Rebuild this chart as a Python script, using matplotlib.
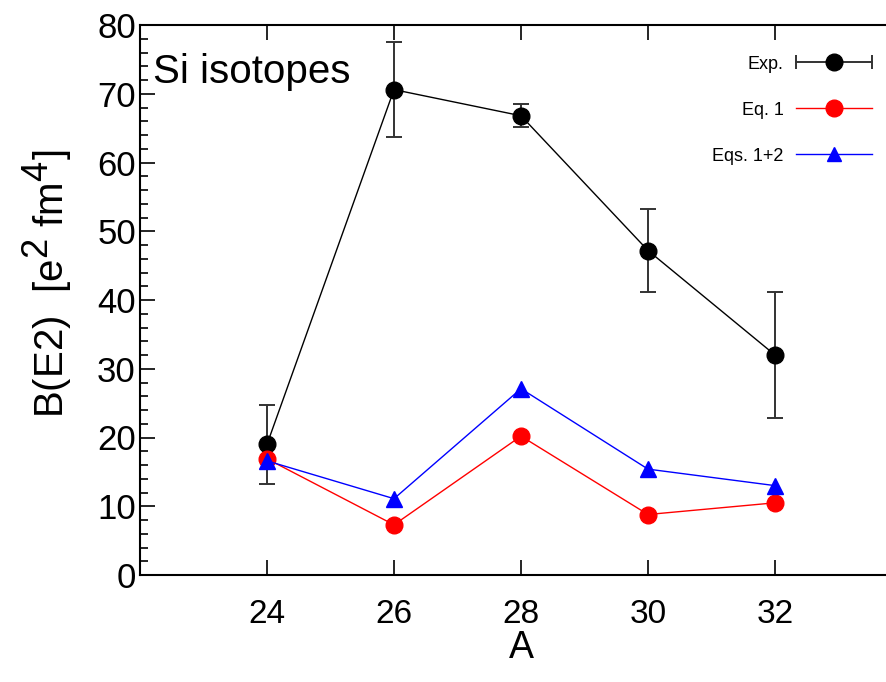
import matplotlib
matplotlib.use("Agg")
import matplotlib.pyplot as plt
import matplotlib._mathtext as mathtext_internal
from matplotlib.lines import Line2D
from matplotlib.legend_handler import HandlerLine2D, HandlerTuple
from matplotlib.ticker import MultipleLocator

plt.rcParams["font.family"] = ["Liberation Sans", "DejaVu Sans"]
plt.rcParams["mathtext.fontset"] = "custom"
plt.rcParams["mathtext.rm"] = "Liberation Sans"
plt.rcParams["mathtext.it"] = "Liberation Sans"
# larger exponents in the axis label
mathtext_internal.SHRINK_FACTOR = 0.9

# Mass number of the Si isotopes
mass_number = [24, 26, 28, 30, 32]

# Measured B(E2) values with uncertainties [e^2 fm^4]
exp_values = [19.0, 70.6, 66.8, 47.2, 32.0]
exp_errors = [5.8, 6.9, 1.7, 6.0, 9.1]

# Calculated B(E2) values
eq1_values = [16.9, 7.3, 20.2, 8.8, 10.5]
eq12_values = [16.6, 11.1, 27.1, 15.4, 13.0]

x_ticks = [24, 26, 28, 30, 32]

W, H = 886, 682
fig = plt.figure(figsize=(W / 100, H / 100), dpi=100)
# axes box runs past the right edge of the canvas
ax = fig.add_axes([140 / W, (H - 575) / H, 762 / W, 550 / H])

ax.errorbar(mass_number, exp_values, yerr=exp_errors, color="black",
            ecolor="#333333", elinewidth=1.4, capsize=6, capthick=1.4,
            marker="o", markersize=12, linewidth=1.0, zorder=3)
ax.plot(mass_number, eq1_values, color="#ff0000", marker="o",
        markersize=12, linewidth=1.0, zorder=4)
ax.plot(mass_number, eq12_values, color="#0000ff", marker="^",
        markersize=11, linewidth=1.0, zorder=5)

ax.set_xlim(22, 34)
ax.set_ylim(0, 80)
ax.set_xticks(x_ticks)
ax.yaxis.set_major_locator(MultipleLocator(10))
ax.yaxis.set_minor_locator(MultipleLocator(2))

ax.tick_params(axis="both", which="both", direction="in", top=True,
               right=True, width=1.2)
ax.tick_params(axis="both", which="major", length=11)
ax.tick_params(axis="y", which="minor", length=6)
ax.tick_params(axis="y", which="major", labelsize=25, pad=3)
ax.tick_params(axis="x", which="major", labelsize=24, pad=17)
for s in ax.spines.values():
    s.set_linewidth(1.5)

ax.set_xlabel("A", fontsize=27, labelpad=0)
ax.set_ylabel(r"B(E2)  [e$^2$ fm$^4$]", fontsize=29)
ax.yaxis.set_label_coords(-0.085, 0.53)

ax.text(0.017, 0.895, "Si isotopes", transform=ax.transAxes,
        fontsize=29, va="baseline", ha="left")

# legend keys: label on the left, sample line on the right
exp_caps = Line2D([], [], color="#333333", linewidth=1.4, marker="|",
                  markersize=10, markeredgewidth=1.4)
exp_dot = Line2D([], [], color="black", linestyle="none", marker="o",
                 markersize=12)
eq1_key = Line2D([], [], color="#ff0000", linewidth=1.0, marker="o",
                 markersize=12)
eq12_key = Line2D([], [], color="#0000ff", linewidth=1.0, marker="^",
                  markersize=10)
leg = ax.legend([(exp_caps, exp_dot), eq1_key, eq12_key],
                ["Exp.", "Eq. 1", "Eqs. 1+2"],
                handler_map={exp_caps: HandlerLine2D(numpoints=2, marker_pad=0),
                             tuple: HandlerTuple(ndivide=1, pad=0)},
                loc="upper right", bbox_to_anchor=(0.961, 0.944),
                frameon=False, markerfirst=False, fontsize=13,
                handlelength=4.2, handletextpad=0.7, labelspacing=1.6,
                borderpad=0, borderaxespad=0)

fig.savefig("out.png", dpi=100)
